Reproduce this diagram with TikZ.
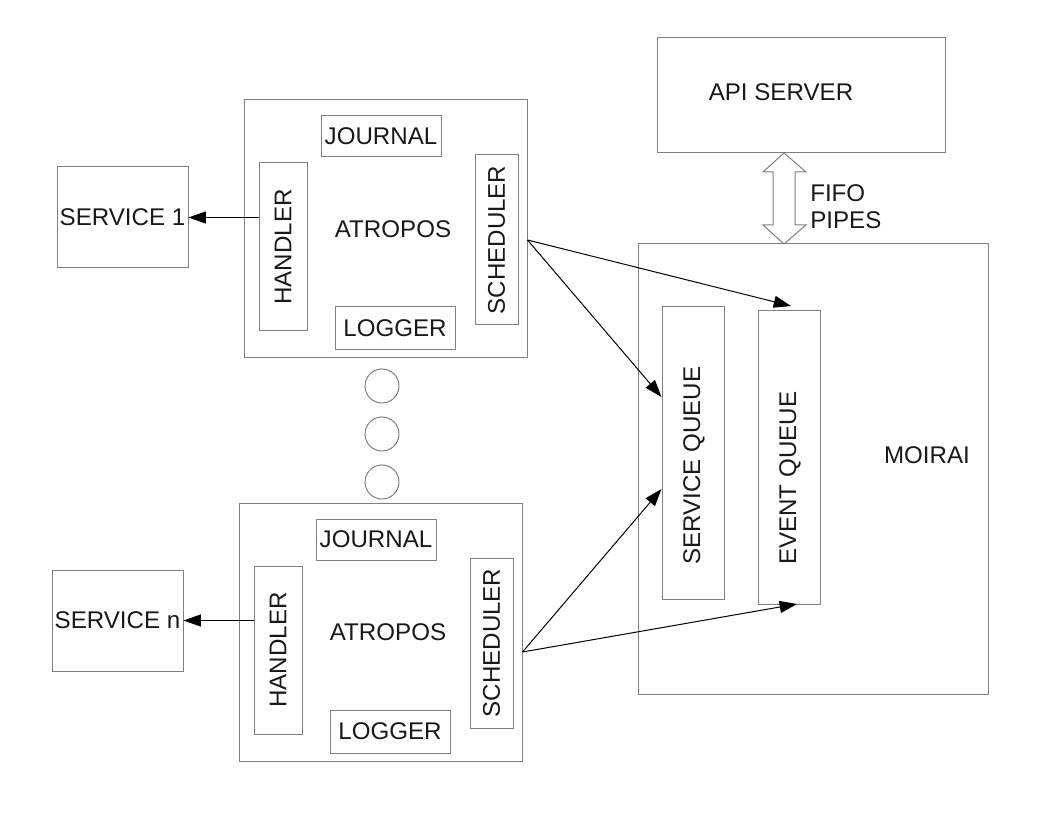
\documentclass[tikz,border=0pt]{standalone}
\usepackage{fontspec}
\usepackage{graphicx}
\setmainfont{Liberation Sans}
\usetikzlibrary{arrows.meta}
\definecolor{boxgray}{RGB}{128,128,128}
\tikzset{
  box/.style={draw=boxgray,line width=0.75pt},
  sz/.style 2 args={minimum width={#1*0.75pt},minimum height={#2*0.75pt}},
  arr/.style={-{Triangle[length=13pt,width=9pt]},line width=0.75pt},
  every node/.style={inner sep=0pt,font=\fontsize{18.1}{20.25}\selectfont,text=black!90}
}
\begin{document}
\begin{tikzpicture}[x=0.75pt,y=-0.75pt]
\useasboundingbox (0,0) rectangle (1056,816);
\node[box,sz={288}{115}] (api) at (801,95.5) {};
\node (apit) at (781,92) {API SERVER};
\node[box,sz={350}{450}] (moi) at (813,469) {};
\node (moit) at (927,455) {MOIRAI};
\node[box,sz={62}{292}] (sq) at (693,453) {};
\node[anchor=south] (sqt) at (694,565) {\rotatebox{90}{SERVICE QUEUE}};
\node[box,sz={62}{293}] (eq) at (789,457.5) {};
\node[anchor=south] (eqt) at (790,565) {\rotatebox{90}{EVENT QUEUE}};
\draw[boxgray,line width=0.75pt](784,153)--(806,172)--(795,172)--(795,225)--(806,225)--(784,244)
  --(763,225)--(773,225)--(773,172)--(763,172)--cycle;
\node[anchor=west,align=left] (fifo) at (810,207) {FIFO\\PIPES};
\foreach \k/\dx/\dy/\n in {A/0/0/1,B/-5/403/n}{
\begin{scope}[shift={(\dx,\dy)}]
\node[box,sz={283}{258}] (atr\k) at (385.5,229) {};
\node (atrt\k) at (393,229) {ATROPOS};
\node[box,sz={120}{41}] (jr\k) at (381,136.5) {JOURNAL};
\node[box,sz={48}{168}] (hd\k) at (283,247) {\rotatebox{90}{HANDLER}};
\node[box,sz={43}{170}] (sc\k) at (496.5,240) {\rotatebox{90}{SCHEDULER}};
\node[box,sz={120}{43}] (lg\k) at (395,328.5) {LOGGER};
\node[box,sz={131}{101}] (sv\k) at (122.5,217.5) {SERVICE \n};
\end{scope}
\draw[arr](hd\k.west |- sv\k.east)--(sv\k.east);
}
\foreach \y in {386,434,482}
  \node[box,circle,minimum size=25.5pt] (dot\y) at (382,\y) {};
\coordinate (oA) at (atrA.east |- 0,240);
\coordinate (oB) at (atrB.east |- 0,652);
\coordinate (eqA) at (791,306);
\coordinate (eqB) at (797,604);
\draw[arr](oA)--(sq.west |- 0,397);
\draw[arr](oA)--(eqA);
\draw[arr](oB)--(sq.west |- 0,489);
\draw[arr](oB)--(eqB);
\end{tikzpicture}
\end{document}
